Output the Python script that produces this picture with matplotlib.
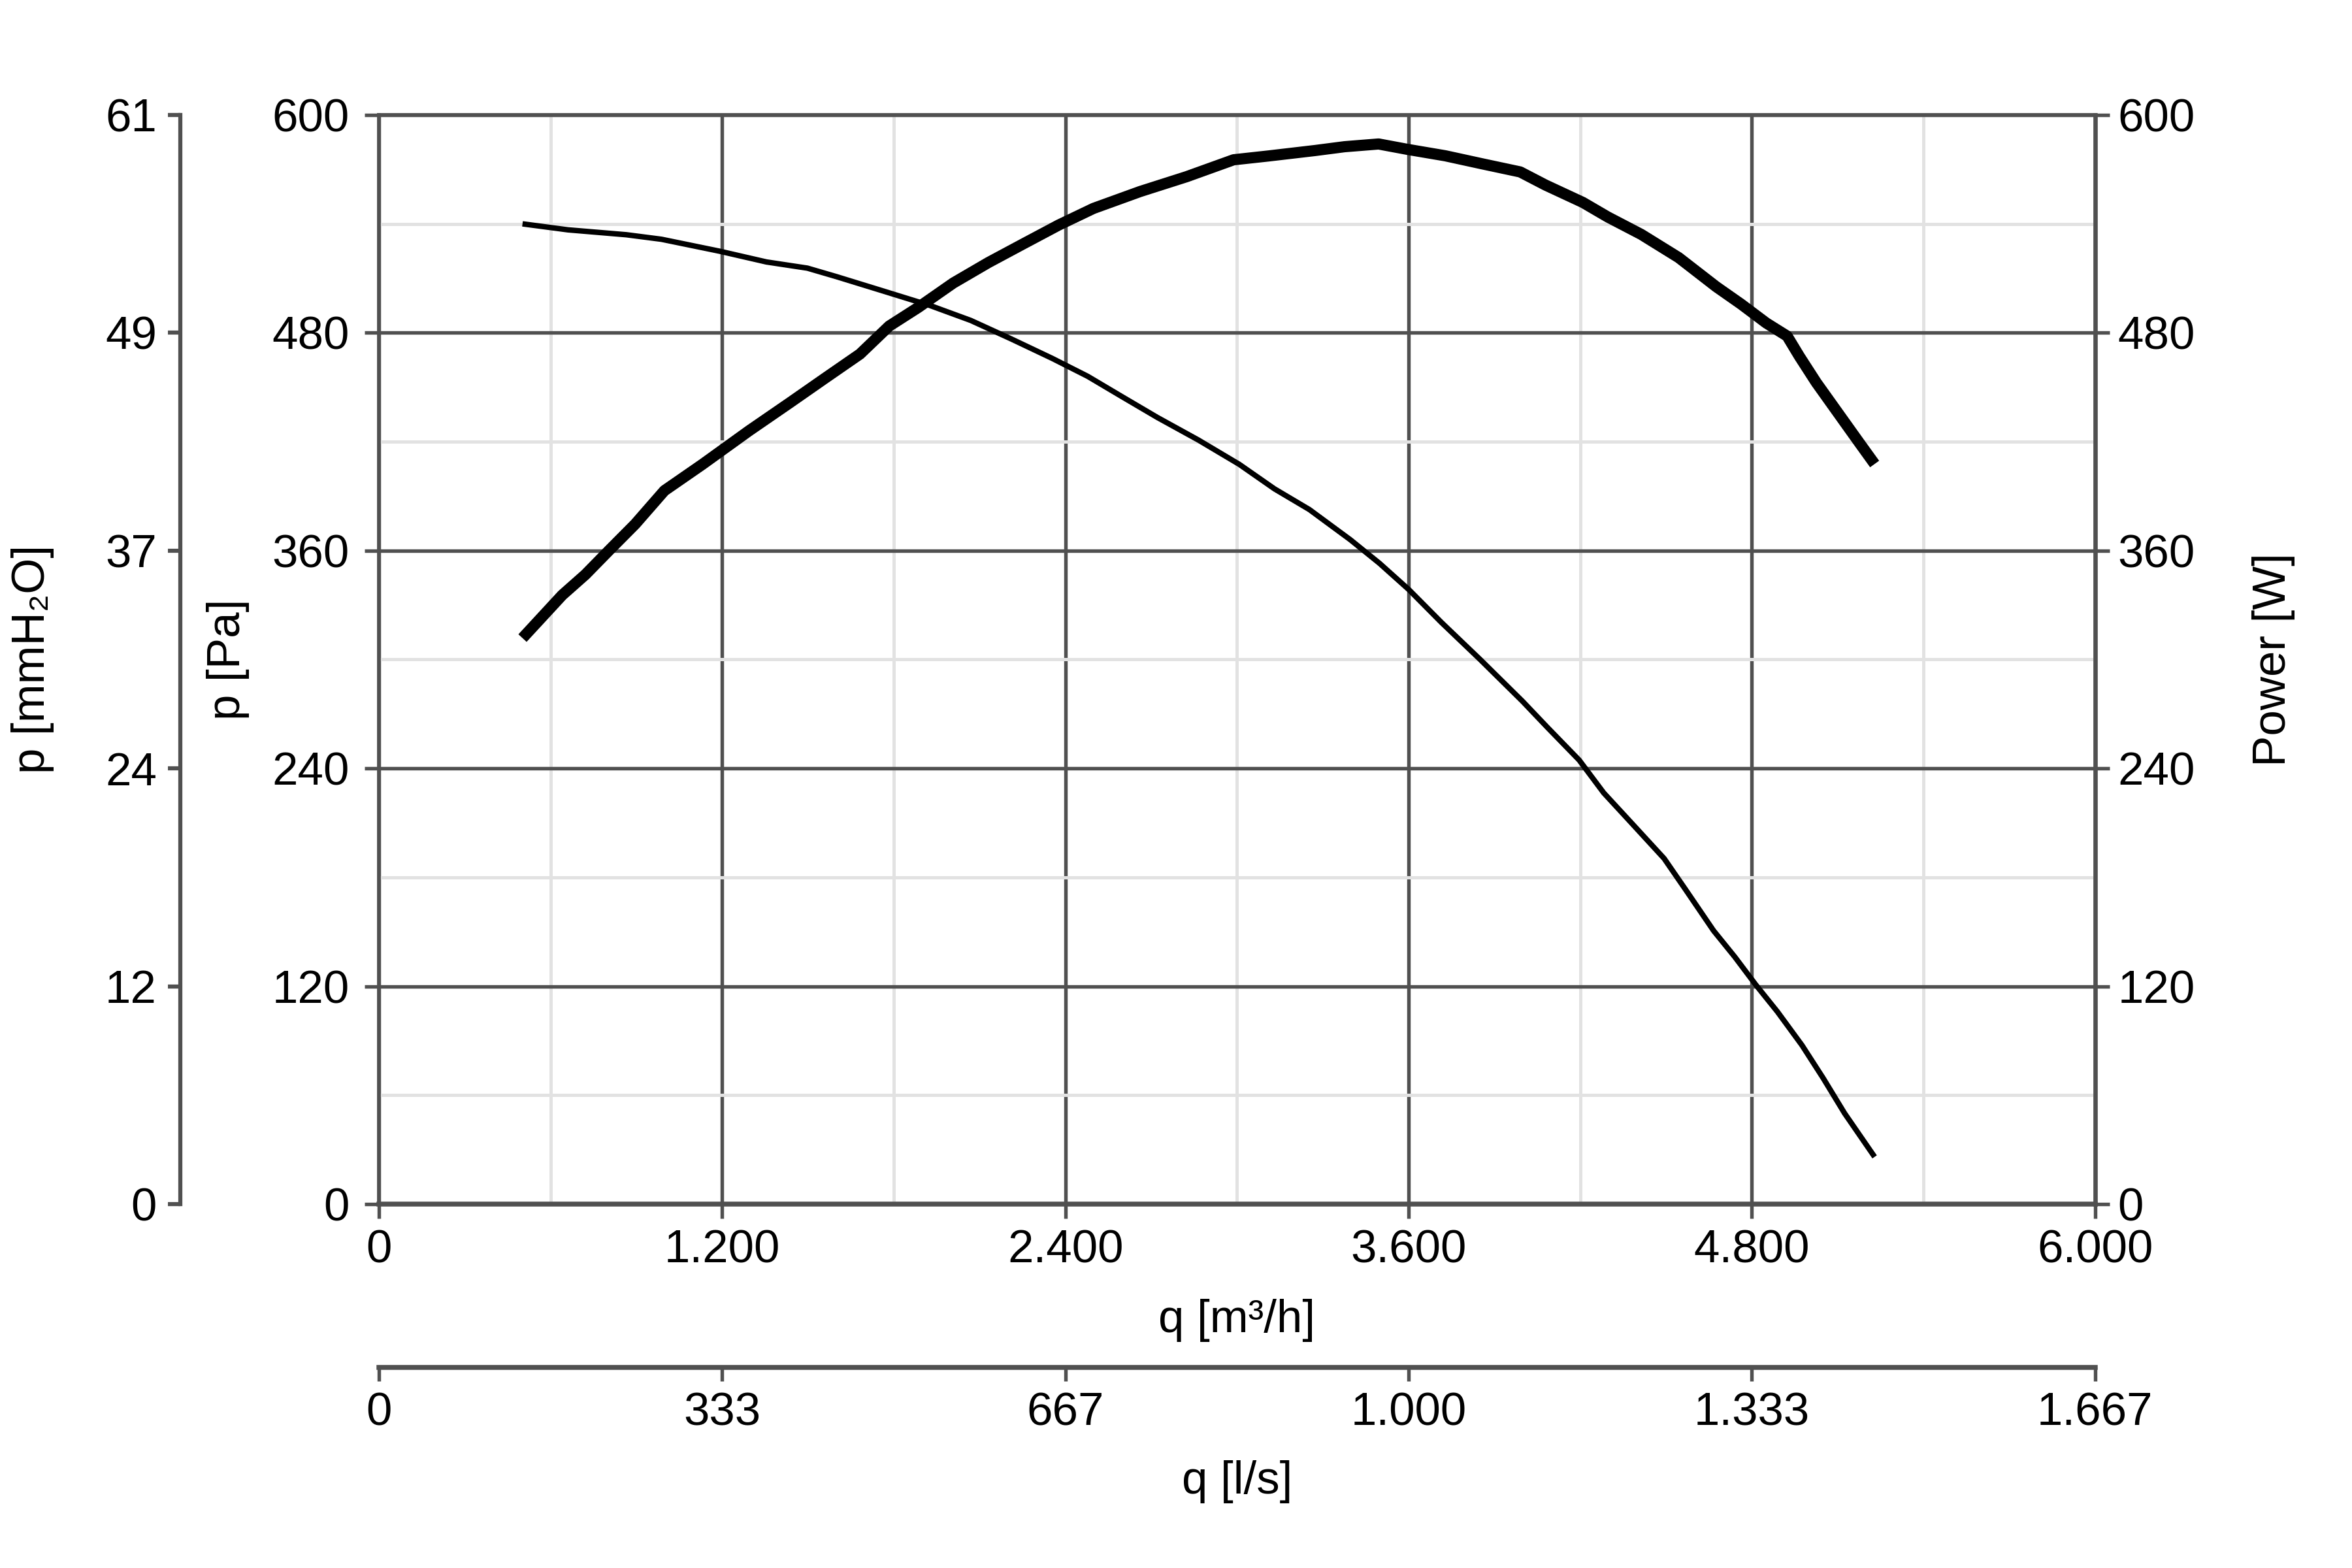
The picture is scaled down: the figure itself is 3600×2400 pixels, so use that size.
import matplotlib
matplotlib.use("Agg")
import matplotlib.pyplot as plt
from matplotlib.ticker import FixedLocator, FuncFormatter

plt.rcParams['font.family'] = ['Liberation Sans', 'DejaVu Sans']

# ---- data ----
q_pressure = [502, 661, 865, 988, 1192, 1355, 1498, 1600, 1763, 1927, 2069, 2212, 2355, 2478,
              2600, 2722, 2865, 3008, 3131, 3253, 3396, 3498, 3600, 3714, 3850, 3998, 4085,
              4196, 4282, 4381, 4493, 4567, 4666, 4740, 4814, 4889, 4975, 5049, 5124, 5229]
pressure_pa = [540, 536.7, 534, 531.5, 524.9, 519, 515.6, 510.9, 503, 495, 486.8, 476.5, 465.8,
               456, 444.6, 433.3, 420.9, 407.5, 394, 382.6, 366, 353, 338.6, 320.5, 300, 277,
               262.6, 244.6, 226.5, 209.6, 190.4, 173.5, 150.6, 136.2, 120.7, 106, 87.5, 69.4,
               50, 26]

q_power = [502, 641, 722, 804, 896, 998, 1131, 1294, 1437, 1559, 1682, 1784, 1886, 2008, 2131,
           2253, 2376, 2498, 2661, 2824, 2988, 3110, 3273, 3376, 3495, 3597, 3728, 3859, 3990,
           4078, 4209, 4296, 4413, 4544, 4675, 4762, 4850, 4923, 4966, 5025, 5112, 5170, 5229]
power_w = [311.8, 335.5, 346.8, 360, 374.6, 393, 407.5, 426, 441.5, 454.9, 468.3, 483.7, 494,
           507.4, 518.7, 529, 539.3, 548.5, 557.8, 566, 575.3, 577.4, 580.4, 582.5, 584, 581,
           577.5, 573, 568.6, 561.4, 551.8, 543.8, 534.2, 521.4, 505.4, 495.8, 485.4, 478.2,
           467, 452.6, 433.4, 420.6, 407.7]

q_ticks = [0, 1200, 2400, 3600, 4800, 6000]
q_minor = [600, 1800, 3000, 4200, 5400]
p_ticks = [0, 120, 240, 360, 480, 600]
p_minor = [60, 180, 300, 420, 540]
PA_PER_MMH2O = 9.80665
M3H_PER_LS = 3.6

def thousands(v):
    return f"{int(round(v)):,}".replace(",", ".")

GRID_DARK = '#505050'
GRID_LIGHT = '#e2e2e2'
FS = 17
L, B, W, H = 0.1611, 0.2321, 0.7297, 0.6946

fig = plt.figure(figsize=(12, 8), dpi=300)
ax = fig.add_axes([L, B, W, H])
ax.set_xlim(0, 6000)
ax.set_ylim(0, 600)
ax.xaxis.set_major_locator(FixedLocator(q_ticks))
ax.xaxis.set_minor_locator(FixedLocator(q_minor))
ax.yaxis.set_major_locator(FixedLocator(p_ticks))
ax.yaxis.set_minor_locator(FixedLocator(p_minor))
ax.xaxis.set_major_formatter(FuncFormatter(lambda v, _: thousands(v)))
ax.yaxis.set_major_formatter(FuncFormatter(lambda v, _: f"{int(v)}"))
ax.set_axisbelow(True)
ax.grid(which='major', color=GRID_DARK, lw=1.3)
ax.grid(which='minor', color=GRID_LIGHT, lw=1.2)
ax.tick_params(which='minor', length=0)
ax.tick_params(axis='both', which='major', length=5.3, width=1.3, color=GRID_DARK,
               labelsize=FS, labelcolor='black')
ax.tick_params(axis='y', pad=5.5)
ax.tick_params(axis='x', pad=4)
for s in ['left', 'top']:
    ax.spines[s].set_color(GRID_DARK)
    ax.spines[s].set_linewidth(1.4)
ax.spines['bottom'].set_color(GRID_DARK)
ax.spines['bottom'].set_linewidth(1.8)
ax.spines['right'].set_visible(False)

ax.plot(q_pressure, pressure_pa, color='black', lw=2.0, solid_capstyle='butt',
        solid_joinstyle='round', zorder=3)

# right power axis
axr = ax.twinx()
axr.set_ylim(0, 600)
axr.yaxis.set_major_locator(FixedLocator(p_ticks))
axr.yaxis.set_major_formatter(FuncFormatter(lambda v, _: f"{int(v)}"))
axr.tick_params(axis='y', length=5.3, width=1.3, color=GRID_DARK, labelsize=FS, pad=3)
for s in ['left', 'top', 'bottom']:
    axr.spines[s].set_visible(False)
axr.spines['right'].set_color(GRID_DARK)
axr.spines['right'].set_linewidth(1.6)
axr.plot(q_power, power_w, color='black', lw=4.1, solid_capstyle='butt',
         solid_joinstyle='round', zorder=3)

# outer left mmH2O axis
axl = fig.add_axes([0.0766, B, 0.0001, H])
axl.set_ylim(0, 600)
axl.yaxis.set_major_locator(FixedLocator(p_ticks))
axl.yaxis.set_major_formatter(FuncFormatter(lambda v, _: f"{round(v / PA_PER_MMH2O)}"))
axl.set_xticks([])
axl.patch.set_visible(False)
for s in ['right', 'top', 'bottom']:
    axl.spines[s].set_visible(False)
axl.spines['left'].set_color(GRID_DARK)
axl.spines['left'].set_linewidth(1.5)
axl.tick_params(axis='y', length=4.6, width=1.5, color=GRID_DARK, labelsize=FS, pad=4)

# lower l/s axis
axq = fig.add_axes([L, 0.128, W, 0.0001])
axq.set_xlim(0, 6000)
axq.xaxis.set_major_locator(FixedLocator(q_ticks))
axq.xaxis.set_major_formatter(FuncFormatter(lambda v, _: thousands(v / M3H_PER_LS)))
axq.set_yticks([])
axq.patch.set_visible(False)
for s in ['left', 'right', 'top']:
    axq.spines[s].set_visible(False)
axq.spines['bottom'].set_color(GRID_DARK)
axq.spines['bottom'].set_linewidth(1.8)
axq.tick_params(axis='x', length=5.0, width=1.3, color=GRID_DARK, labelsize=FS, pad=4)

# axis labels
yc = B + H / 2
xc = L + W / 2
fig.text(0.014, yc, 'p [mmH₂O]', rotation=90, ha='center', va='center', fontsize=FS)
fig.text(0.097, yc, 'p [Pa]', rotation=90, ha='center', va='center', fontsize=FS)
fig.text(0.9667, yc, 'Power [W]', rotation=90, ha='center', va='center', fontsize=FS)
fig.text(xc, 0.158, 'q [m³/h]', ha='center', va='center', fontsize=FS)
fig.text(xc, 0.055, 'q [l/s]', ha='center', va='center', fontsize=FS)

fig.savefig('out.png', dpi=300, facecolor='white')
